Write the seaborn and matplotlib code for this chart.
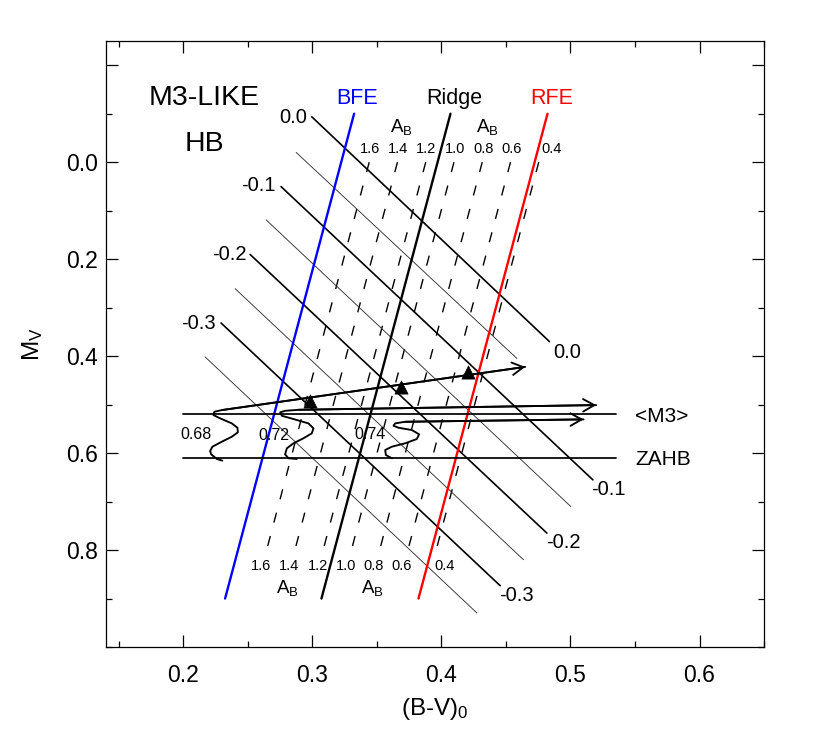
import numpy as np
import pandas as pd
import matplotlib
matplotlib.use('Agg')
import matplotlib.pyplot as plt
import seaborn as sns
from matplotlib.ticker import MultipleLocator, FixedLocator, FuncFormatter

# ---------------- data ----------------
# instability-strip edges and ridge: x at M_V = 0.9 and at M_V = -0.1
edge_names = ['BFE', 'Ridge', 'RFE']
edge_x_bottom = [0.2323, 0.3070, 0.3822]
edge_x_top = [0.3323, 0.4070, 0.4822]
edge_M = [0.9, -0.1]
edge_label_x = [0.3349, 0.4099, 0.4856]
edge_label_M = [-0.120, -0.120, -0.121]

# A_B dashed lines: x at M_V = 0.0 (top) and 0.8 (bottom)
ab_labels = ['1.6', '1.4', '1.2', '1.0', '0.8', '0.6', '0.4']
ab_x_top = [0.3440, 0.3659, 0.3878, 0.4097, 0.4316, 0.4535, 0.4754]
ab_x_bottom = [0.2645, 0.2864, 0.3083, 0.3302, 0.3521, 0.3740, 0.3959]
ab_M = [0.0, 0.8]
ab_top_label_x = [0.3445, 0.3663, 0.3884, 0.4109, 0.4327, 0.4547, 0.4852]
ab_top_label_M = -0.020
ab_bot_label_x = [0.2598, 0.2818, 0.3040, 0.3257, 0.3477, 0.3694, 0.4022]
ab_bot_label_M = 0.842
ab_title_x_top = [0.3693, 0.4356]
ab_title_M_top = -0.063
ab_title_x_bot = [0.2805, 0.3467]
ab_title_M_bot = 0.8885

# diagonal lines (thick labelled + thin in between)
diag_names = ['0.0', 't1', '-0.1', 't2', '-0.2', 't3', '-0.3', 't4']
diag_thick = [True, False, True, False, True, False, True, False]
diag_x_start = [0.2995, 0.2874, 0.2757, 0.2641, 0.2517, 0.2401, 0.2292, 0.2168]
diag_M_start = [-0.0936, -0.0202, 0.0504, 0.1189, 0.1903, 0.2609, 0.3317, 0.4016]
diag_x_end = [0.4837, 0.4585, 0.5174, 0.5003, 0.4817, 0.4636, 0.4455, 0.4274]
diag_M_end = [0.3700, 0.4049, 0.6553, 0.7103, 0.7650, 0.8200, 0.8735, 0.9296]
diag_label_text = ['0.0', '-0.1', '-0.2', '-0.3']
diag_label_left_x = [0.2848, 0.2581, 0.2356, 0.2120]
diag_label_left_M = [-0.080, 0.0586, 0.2012, 0.3432]
diag_label_right_x = [0.4978, 0.5295, 0.4943, 0.4582]
diag_label_right_M = [0.4029, 0.6862, 0.7959, 0.9058]

# horizontal reference lines
hline_names = ['<M3>', 'ZAHB']
hline_M = [0.520, 0.611]
hline_x = [0.200, 0.535]
hline_label_x = 0.5502
hline_label_M = [0.5354, 0.6245]

# evolutionary tracks (mass 0.68, 0.72, 0.74)
track_masses = ['0.68', '0.72', '0.74']
track1_x = [0.2302, 0.2259, 0.2215, 0.2207, 0.2225, 0.2298, 0.2375, 0.2422,
            0.2419, 0.2375, 0.2285, 0.2233, 0.2240, 0.2298, 0.4649]
track1_M = [0.6156, 0.6121, 0.6025, 0.5957, 0.5868, 0.5765, 0.5663, 0.5572,
            0.5477, 0.5387, 0.5284, 0.5216, 0.5148, 0.5113, 0.4222]
track2_x = [0.2879, 0.2814, 0.2788, 0.2802, 0.2853, 0.2930, 0.2995, 0.3008,
            0.2969, 0.2853, 0.2763, 0.2750, 0.2788, 0.2892, 0.5199]
track2_M = [0.6121, 0.6107, 0.6025, 0.5901, 0.5798, 0.5695, 0.5593, 0.5490,
            0.5387, 0.5298, 0.5230, 0.5160, 0.5128, 0.5107, 0.5010]
track3_x = [0.3616, 0.3569, 0.3564, 0.3616, 0.3719, 0.3809, 0.3827, 0.3771,
            0.3667, 0.3628, 0.3641, 0.3719, 0.5101]
track3_M = [0.6107, 0.6039, 0.5936, 0.5868, 0.5798, 0.5710, 0.5613, 0.5525,
            0.5477, 0.5436, 0.5387, 0.5354, 0.5305]
track_label_x = [0.2097, 0.2698, 0.3447]
track_label_M = [0.5716, 0.5730, 0.5716]

# triangles on the upper track
tri_x = [0.2982, 0.3684, 0.4203]
tri_M = [0.4928, 0.4630, 0.4321]

# ---------------- style ----------------
sns.set_theme(style='ticks')
plt.rcParams['font.family'] = ['Liberation Sans', 'DejaVu Sans']
plt.rcParams['mathtext.fontset'] = 'custom'
plt.rcParams['mathtext.rm'] = 'Liberation Sans'
plt.rcParams['mathtext.it'] = 'Liberation Sans:italic'
plt.rcParams['mathtext.bf'] = 'Liberation Sans:bold'
plt.rcParams['text.color'] = 'black'
plt.rcParams['axes.labelcolor'] = 'black'
plt.rcParams['xtick.color'] = 'black'
plt.rcParams['ytick.color'] = 'black'
plt.rcParams['axes.edgecolor'] = 'black'

fig = plt.figure(figsize=(8.3, 7.32), dpi=100)
ax = fig.add_axes([0.1277, 0.1161, 0.7928, 0.8279])

# edges
edge_df = pd.DataFrame({
    'name': np.repeat(edge_names, 2),
    'x': [v for pair in zip(edge_x_bottom, edge_x_top) for v in pair],
    'M': edge_M * len(edge_names),
})
sns.lineplot(data=edge_df, x='x', y='M', hue='name', units='name',
             estimator=None, sort=False, legend=False, lw=1.7,
             palette={'BFE': '#0000ff', 'Ridge': 'black', 'RFE': '#ff0000'},
             ax=ax, zorder=3)
edge_colors = ['#0000ff', 'black', '#ff0000']
for n, x, m, c in zip(edge_names, edge_label_x, edge_label_M, edge_colors):
    ax.text(x, m, n, color=c, fontsize=15.5, ha='center', va='baseline')

# dashed A_B lines
for xt, xb in zip(ab_x_top, ab_x_bottom):
    ax.plot([xt, xb], ab_M, color='black', lw=1.0, dashes=(7.4, 10.0), zorder=2)
for lab, x in zip(ab_labels, ab_top_label_x):
    ax.text(x, ab_top_label_M, lab, fontsize=10.5, ha='center', va='baseline')
for lab, x in zip(ab_labels, ab_bot_label_x):
    ax.text(x, ab_bot_label_M, lab, fontsize=10.5, ha='center', va='baseline')
for x in ab_title_x_top:
    ax.text(x, ab_title_M_top, r'A$_\mathrm{B}$', fontsize=13.5, ha='center', va='baseline')
for x in ab_title_x_bot:
    ax.text(x, ab_title_M_bot, r'A$_\mathrm{B}$', fontsize=13.5, ha='center', va='baseline')

# diagonal lines
diag_df = pd.DataFrame({
    'name': np.repeat(diag_names, 2),
    'thick': np.repeat(diag_thick, 2),
    'x': [v for pair in zip(diag_x_start, diag_x_end) for v in pair],
    'M': [v for pair in zip(diag_M_start, diag_M_end) for v in pair],
})
sns.lineplot(data=diag_df[diag_df['thick']], x='x', y='M', units='name',
             estimator=None, sort=False, color='black', lw=1.2, ax=ax, zorder=2)
sns.lineplot(data=diag_df[~diag_df['thick']], x='x', y='M', units='name',
             estimator=None, sort=False, color='#333333', lw=0.65, ax=ax, zorder=2)
for t, x, m in zip(diag_label_text, diag_label_left_x, diag_label_left_M):
    ax.text(x, m, t, fontsize=14.5, ha='center', va='baseline')
for t, x, m in zip(diag_label_text, diag_label_right_x, diag_label_right_M):
    ax.text(x, m, t, fontsize=14.5, ha='center', va='baseline')

# horizontal lines
for n, m, lm in zip(hline_names, hline_M, hline_label_M):
    ax.plot(hline_x, [m, m], color='black', lw=1.25, zorder=3)
    ax.text(hline_label_x, lm, n, fontsize=15, ha='left', va='baseline')

# tracks
for tx, tm in [(track1_x, track1_M), (track2_x, track2_M), (track3_x, track3_M)]:
    sns.lineplot(x=tx, y=tm, sort=False, estimator=None, color='black',
                 lw=1.35, ax=ax, zorder=4)
    ax.annotate('', xy=(tx[-1], tm[-1]), xytext=(tx[-2], tm[-2]),
                arrowprops=dict(arrowstyle='->,head_length=0.8,head_width=0.45',
                                lw=1.35, color='black', shrinkA=0, shrinkB=0,
                                mutation_scale=10), zorder=4)
for t, x, m in zip(track_masses, track_label_x, track_label_M):
    ax.text(x, m, t, fontsize=11.5, ha='center', va='baseline')

sns.scatterplot(x=tri_x, y=tri_M, marker='^', s=90, color='black',
                edgecolor='black', linewidth=0.5, ax=ax, zorder=5)

# titles in plot
ax.text(0.2164, -0.1177, 'M3-LIKE', fontsize=20.5, ha='center', va='baseline')
ax.text(0.2163, -0.0237, 'HB', fontsize=20.5, ha='center', va='baseline')

# axes
ax.set_xlim(0.14, 0.65)
ax.set_ylim(1.0, -0.25)
ax.xaxis.set_major_locator(MultipleLocator(0.1))
ax.xaxis.set_minor_locator(MultipleLocator(0.05))
ax.yaxis.set_major_locator(FixedLocator([-0.2, 0.0, 0.2, 0.4, 0.6, 0.8]))
ax.yaxis.set_minor_locator(MultipleLocator(0.1))
ax.xaxis.set_major_formatter(FuncFormatter(lambda v, p: f'{v:.1f}'))
ax.yaxis.set_major_formatter(FuncFormatter(lambda v, p: '' if v < -0.1 else f'{abs(v):.1f}'))
ax.tick_params(which='both', direction='in', top=True, right=True, width=0.9, colors='black')
ax.tick_params(which='major', length=8.5, labelsize=16.5)
ax.tick_params(which='minor', length=4)
ax.tick_params(axis='x', which='major', pad=12)
ax.tick_params(axis='y', which='major', pad=6)
for s in ax.spines.values():
    s.set_linewidth(0.9)
    s.set_color('black')
ax.set_xlabel(r'(B-V)$_\mathrm{0}$', fontsize=17.5, labelpad=7)
ax.set_ylabel(r'M$_\mathrm{V}$', fontsize=17.5, labelpad=15)

fig.savefig('out.png', dpi=100)
